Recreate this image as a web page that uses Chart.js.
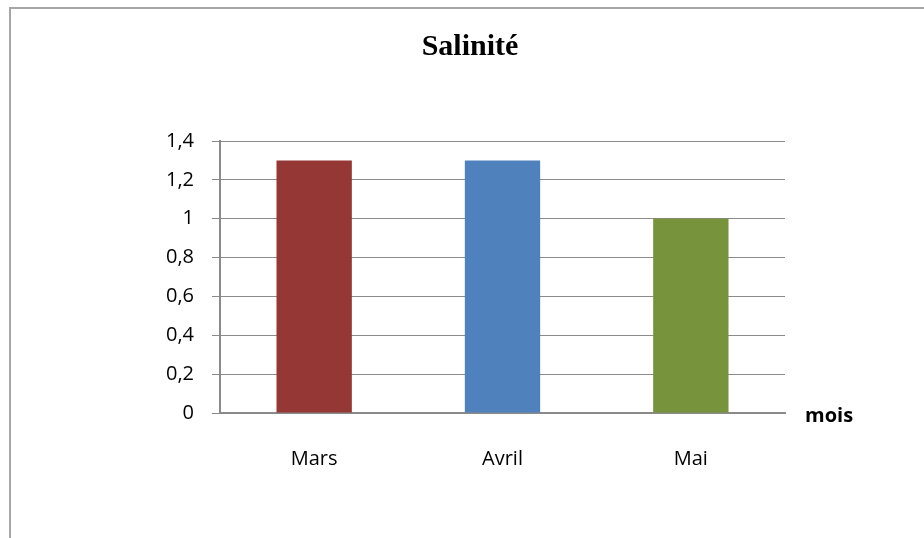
<!DOCTYPE html>
<html>
<head>
<meta charset="utf-8">
<script src="https://cdn.jsdelivr.net/npm/chart.js@4"></script>
<style>
  body { margin: 0; background: #fff; }
  #wrap { position: relative; width: 924px; height: 538px; }
  #frame { position: absolute; left: 9px; top: 7px; right: -10px; bottom: -10px;
           border-left: 2px solid #a6a6a6; border-top: 2px solid #a6a6a6; }
  canvas { position: absolute; left: 0; top: 0; }
</style>
</head>
<body>
<div id="wrap">
  <div id="frame"></div>
  <canvas id="chart" width="924" height="538"></canvas>
</div>
<script>
const mois = ['Mars', 'Avril', 'Mai'];
const salinite = [1.3, 1.3, 1.0];
const couleurs = ['#953735', '#4f81bd', '#77933c'];
const yTicks = [0, 0.2, 0.4, 0.6, 0.8, 1, 1.2, 1.4];

// titre centré sur toute la zone + nom de l'axe x à droite
const textes = {
    id: 'textes',
    afterDraw(chart) {
        const c = chart.ctx;
        const a = chart.chartArea;
        c.save();
        c.fillStyle = '#000';
        c.textBaseline = 'middle';
        c.textAlign = 'center';
        c.font = 'bold 30px "Liberation Serif"';
        c.fillText('Salinité', 470, 47);
        c.textAlign = 'left';
        c.font = 'bold 20px "Open Sans"';
        c.fillText('mois', a.right + 20, a.bottom + 3);
        c.restore();
    }
};

const ctx = document.getElementById('chart').getContext('2d');
const graf = new Chart(ctx, {
    type: 'bar',
    data: {
        labels: mois,
        datasets: [{
            data: salinite,
            backgroundColor: couleurs,
            barPercentage: 0.4,
            categoryPercentage: 1
        }]
    },
    options: {
        responsive: false,
        animation: false,
        layout: { padding: { left: 0, right: 139, top: 141, bottom: 0 } },
        plugins: {
            legend: { display: false },
            tooltip: { enabled: false }
        },
        scales: {
            x: {
                grid: { display: false },
                border: { color: '#8a8a8a', width: 2 },
                ticks: { color: '#000', padding: 26, font: { family: '"Open Sans"', size: 20 } },
                afterFit(s) { s.height = 125; }
            },
            y: {
                min: 0,
                max: 1.4,
                afterBuildTicks(s) { s.ticks = yTicks.map(v => ({ value: v })); },
                grid: { color: '#8a8a8a', lineWidth: 1, tickLength: 8 },
                border: { color: '#8a8a8a', width: 2 },
                ticks: {
                    color: '#000',
                    padding: 18,
                    font: { family: '"Open Sans"', size: 20 },
                    callback: v => String(v).replace('.', ',')
                },
                afterFit(s) { s.width = 220; }
            }
        }
    },
    plugins: [textes]
});
</script>
</body>
</html>
